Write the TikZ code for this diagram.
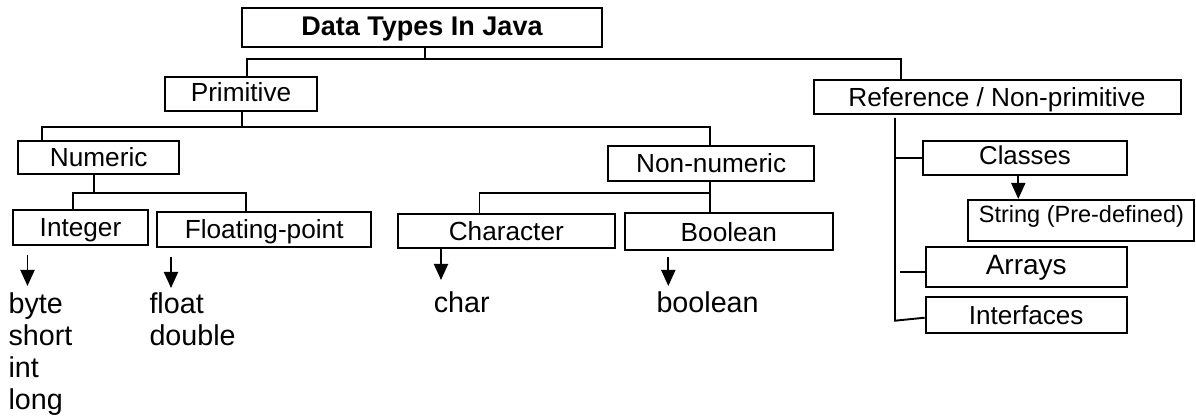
\documentclass[tikz,border=0pt]{standalone}
\usepackage{fontspec}
\setmainfont{Liberation Sans}
\usetikzlibrary{arrows.meta,calc}
\begin{document}
\begin{tikzpicture}[x=1pt,y=-1pt,
  box/.style={draw, line width=2pt, inner sep=0pt, text height=18.7pt, text depth=0pt,
    font=\fontsize{26.2}{30}\selectfont},
  conn/.style={line width=1.9pt},
  darr/.style={line width=1.9pt, -{Triangle[width=14pt,length=16pt]}},
  leaf/.style={inner sep=0pt, anchor=base west, align=left,
    font=\fontsize{28.7}{32}\selectfont}]
\useasboundingbox (0,0) rectangle (1196,419);

% boxes
\node[box, minimum width=360pt, minimum height=39pt, text height=19.3pt, text depth=3.4pt,
  font=\bfseries\fontsize{27}{30}\selectfont] (title) at (422,27.5) {Data Types In Java};
\node[box, minimum width=152pt, minimum height=34.5pt, text depth=3.5pt] (prim) at (241,94.25) {Primitive};
\node[box, minimum width=367pt, minimum height=34pt] (ref) at (997,97) {Reference / Non-primitive};
\node[box, minimum width=160.7pt, minimum height=33.6pt] (num) at (98.7,157.5) {Numeric};
\node[box, minimum width=205.7pt, minimum height=34.7pt] (nonnum) at (711.2,163.4) {Non-numeric};
\node[box, minimum width=135.6pt, minimum height=35pt] (int) at (80.5,227.5) {Integer};
\node[box, minimum width=213.7pt, minimum height=35pt] (flt) at (264.2,229.2) {Floating-point};
\node[box, minimum width=217.3pt, minimum height=34.5pt] (chr) at (506.3,230.8) {Character};
\node[box, minimum width=207.7pt, minimum height=36.7pt] (bool) at (728.8,231.7) {Boolean};
\node[box, minimum width=203.4pt, minimum height=34pt, text depth=6pt,
  font=\fontsize{25.8}{30}\selectfont] (cls) at (1025,158) {Classes};
\node[box, minimum width=226pt, minimum height=40.7pt, text height=16.8pt, text depth=12.6pt,
  font=\fontsize{23.5}{28}\selectfont] (str) at (1081.4,220.3) {String (Pre-defined)};
\node[box, minimum width=201pt, minimum height=39.4pt, text height=20pt, text depth=4pt,
  font=\fontsize{28}{32}\selectfont] (arr) at (1026.2,267) {Arrays};
\node[box, minimum width=201pt, minimum height=36pt,
  font=\fontsize{26.1}{30}\selectfont] (intf) at (1026.2,315.3) {Interfaces};

% leaf texts (base anchor = baseline of the last line)
\node[leaf] (intl) at (8.4,409) {byte\\short\\int\\long};
\node[leaf] (fltl) at (149.3,345) {float\\double};
\node[leaf] (chrl) at (433.6,313) {char};
\node[leaf] (booll) at (656.3,313) {boolean};

% junction coordinates
\coordinate (t1) at (424.8,59);
\coordinate (p1) at (247,59);
\coordinate (r1) at (901.4,59);
\coordinate (p2) at (242.2,127);
\coordinate (n1) at (42,127);
\coordinate (nn1) at (710,127);
\coordinate (n2) at (94.3,192.7);
\coordinate (i1) at (73.3,192.7);
\coordinate (f1) at (246,192.7);
\coordinate (nn2) at (710,193.3);
\coordinate (c1) at (479.5,193.3);
\coordinate (r2) at (895,320.7);
\coordinate (a1) at (900,272.3);
\coordinate (s1) at (1018.3,0);

% connectors
\draw[conn] (title.south -| t1) -- (t1);
\draw[conn] (prim.north -| p1) -- (p1) -- (r1) -- (ref.north -| r1);
\draw[conn] (prim.south -| p2) -- (p2);
\draw[conn] (num.north -| n1) -- (n1) -- (nn1) -- (nonnum.north -| nn1);
\draw[conn] (num.south -| n2) -- (n2);
\draw[conn] (int.north -| i1) -- (i1) -- (f1) -- (flt.north -| f1);
\draw[conn] (nonnum.south -| nn2) -- (bool.north -| nn2);
\draw[conn] (nn2) -- (c1) -- (chr.north -| c1);
\draw[conn] ($(ref.south -| r2)+(0,3)$) -- (r2) -- ($(intf.west)+(0,2.4)$);
\draw[conn] (cls.west -| r2) -- (cls.west);
\draw[conn] (a1) -- (arr.west |- a1);
\draw[darr] (cls.south -| s1) -- (str.north -| s1);

% leaf arrows
\coordinate (ia) at (27.5,255);  \coordinate (ib) at (27.5,286);
\coordinate (fa) at (171,257);   \coordinate (fb) at (171,288);
\coordinate (cb) at (441,280);
\coordinate (ba) at (668.3,256.7); \coordinate (bb) at (668.3,286);
\draw[darr] (ia) -- (ib);
\draw[darr] (fa) -- (fb);
\draw[darr] (chr.south -| cb) -- (cb);
\draw[darr] (ba) -- (bb);
\end{tikzpicture}
\end{document}
